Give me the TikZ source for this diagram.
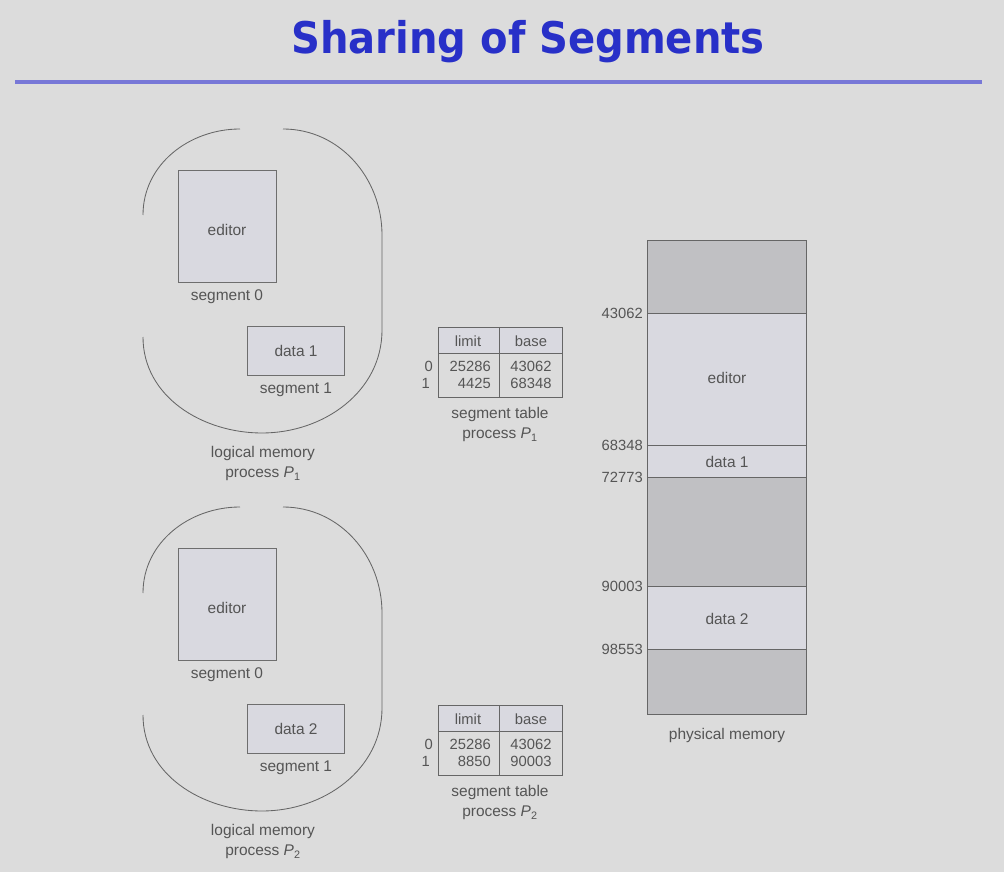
\documentclass[tikz,border=0pt]{standalone}
\usepackage{graphicx}
\usepackage{fontspec}
\setmainfont{Liberation Sans}
\newfontfamily\titlefont{DejaVu Sans}
\definecolor{slide}{RGB}{220,220,220}
\definecolor{boxfill}{RGB}{217,217,224}
\definecolor{hole}{RGB}{192,192,195}
\definecolor{ink}{RGB}{85,85,85}
\definecolor{titleblue}{RGB}{40,48,200}
\definecolor{rulecol}{RGB}{120,120,215}

\begin{document}
\begin{tikzpicture}[x=0.025cm, y=-0.025cm,
	lbl/.style={text=ink, inner sep=0pt, font=\fontsize{11}{12}\selectfont},
	tbl/.style={text=ink, inner sep=0pt, font=\fontsize{10.5}{12}\selectfont},
	segbox/.style={draw=ink!85, fill=boxfill, line width=.6pt},
	outline/.style={draw=ink!90, line width=.6pt},
	memline/.style={draw=ink!90, line width=.7pt}]
				\useasboundingbox (0,0) rectangle (1004,872);
				\fill[slide] (0,0) rectangle (1004,872);
				% title
				\node[text=titleblue, inner sep=0pt, font=\titlefont\bfseries\fontsize{31}{34}\selectfont] (title) at (528,42) {\scalebox{0.92}[1]{Sharing of Segments}};
				\draw[rulecol, line width=2.6pt] (15,82) -- (982,82);
				% the two processes
				\foreach \dy/\p/\lim/\bas in {0/1/4425/68348, 378/2/8850/90003} {
					\draw[outline] (143,215+\dy) to[out=90, in=180] (240,129+\dy);
					\draw[outline] (283,129+\dy) to[out=0, in=90] (382,235+\dy) -- (382,330+\dy)
						to[out=-90, in=0] (262,433+\dy) to[out=180, in=-90] (143,337+\dy);
					\draw[segbox] (178,170+\dy) rectangle (276,282+\dy);
					\node[lbl] (ed\p) at (227,230+\dy) {editor};
					\node[lbl] (sz\p) at (227,297+\dy) {segment 0};
					\draw[segbox] (247,326+\dy) rectangle (344,375+\dy);
					\node[lbl] (dt\p) at (296,351+\dy) {data \p};
					\node[lbl] (so\p) at (296,390+\dy) {segment 1};
					\node[lbl] (lm\p) at (263,453+\dy) {logical memory};
					\node[lbl] (pr\p) at (263,474+\dy) {process {\itshape P}\textsubscript{\p}};
					% segment table
					\fill[boxfill] (438,327+\dy) rectangle (562,353+\dy);
					\draw[memline] (438,327+\dy) rectangle (562,397+\dy);
					\draw[memline] (438,353+\dy) -- (562,353+\dy);
					\draw[memline] (499,327+\dy) -- (499,397+\dy);
					\node[tbl] (hl\p) at (468,341+\dy) {limit};
					\node[tbl] (hb\p) at (531,341+\dy) {base};
					\node[tbl, anchor=east] (rz\p) at (433,366+\dy) {0};
					\node[tbl, anchor=east] (ro\p) at (430,383+\dy) {1};
					\node[tbl, anchor=east] (lz\p) at (491,366+\dy) {25286};
					\node[tbl, anchor=east] (lo\p) at (491,383+\dy) {\lim};
					\node[tbl] (bz\p) at (531,366+\dy) {43062};
					\node[tbl] (bo\p) at (531,383+\dy) {\bas};
					\node[lbl] (st\p) at (500,414+\dy) {segment table};
					\node[lbl] (sp\p) at (500,435+\dy) {process {\itshape P}\textsubscript{\p}};
				}
				% physical memory
				\fill[hole] (647,240) rectangle (806,714);
				\fill[boxfill] (647,313) rectangle (806,477);
				\fill[boxfill] (647,586) rectangle (806,649);
				\draw[memline] (647,240) rectangle (806,714);
				\foreach \y/\addr in {313/43062, 445/68348, 477/72773, 586/90003, 649/98553} {
					\draw[memline] (647,\y) -- (806,\y);
					\node[tbl, anchor=east] (a\addr) at (643,\y) {\addr};
				}
				\node[lbl] (pe) at (727,378) {editor};
				\node[lbl] (pd1) at (727,462) {data 1};
				\node[lbl] (pd2) at (727,619) {data 2};
				\node[lbl] (pm) at (727,735) {physical memory};
			\end{tikzpicture}
\end{document}
